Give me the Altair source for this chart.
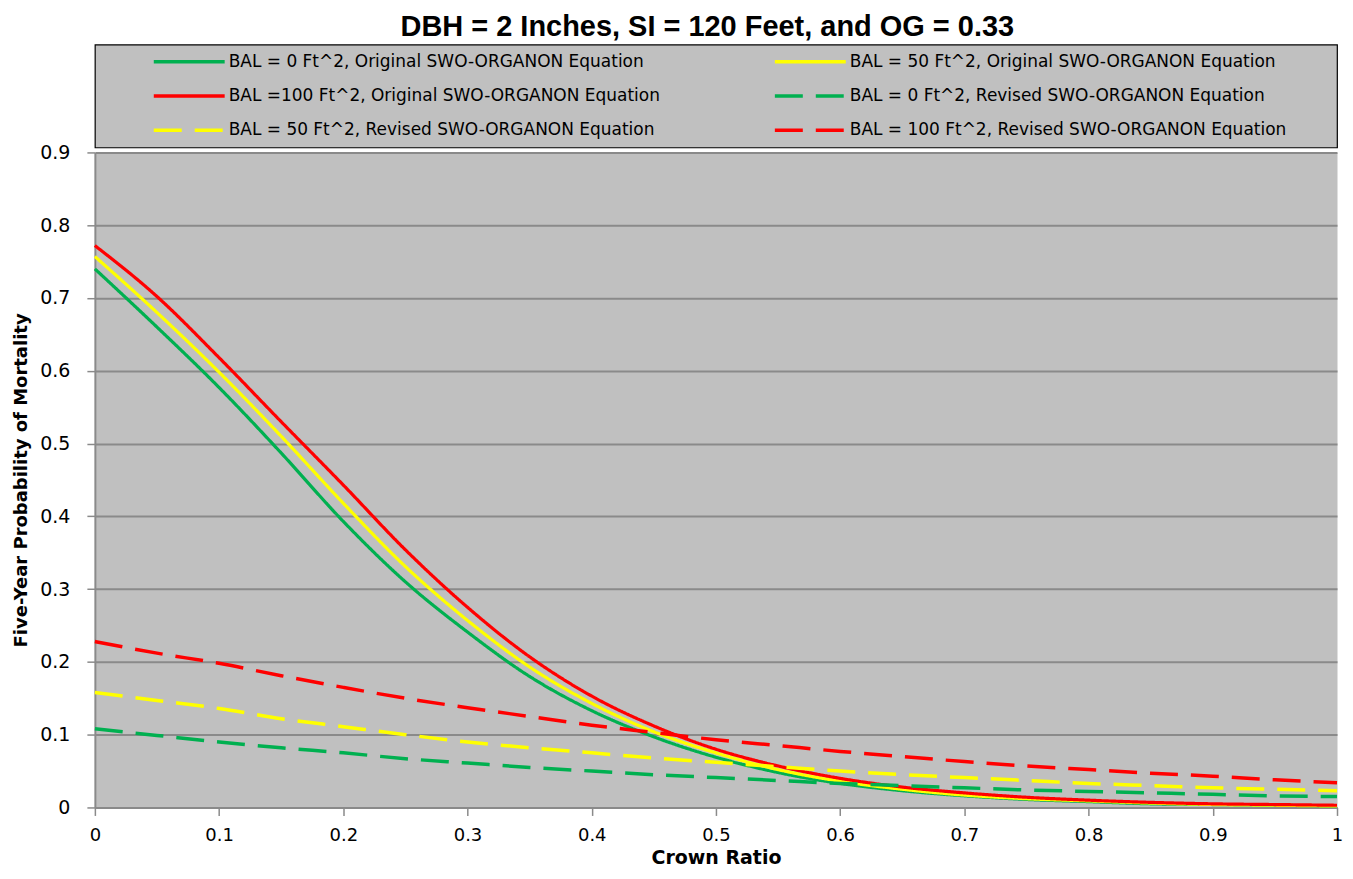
import altair as alt
import pandas as pd

crown_ratio = [0.00, 0.05, 0.10, 0.15, 0.20, 0.25, 0.30, 0.35, 0.40, 0.45, 0.50,
               0.55, 0.60, 0.65, 0.70, 0.75, 0.80, 0.85, 0.90, 0.95, 1.00]

orig_bal0 = [0.740, 0.660, 0.577, 0.487, 0.393, 0.310, 0.241, 0.180, 0.133, 0.097, 0.069,
             0.048, 0.033, 0.023, 0.016, 0.011, 0.008, 0.005, 0.004, 0.003, 0.002]
orig_bal50 = [0.757, 0.680, 0.598, 0.510, 0.418, 0.331, 0.257, 0.193, 0.143, 0.104, 0.075,
              0.052, 0.036, 0.025, 0.017, 0.012, 0.009, 0.006, 0.004, 0.003, 0.002]
orig_bal100 = [0.772, 0.702, 0.618, 0.530, 0.443, 0.354, 0.275, 0.207, 0.153, 0.112, 0.080,
               0.057, 0.040, 0.028, 0.020, 0.014, 0.010, 0.007, 0.005, 0.004, 0.003]
rev_bal0 = [0.108, 0.099, 0.090, 0.082, 0.075, 0.067, 0.061, 0.055, 0.050, 0.045, 0.041,
            0.037, 0.033, 0.030, 0.027, 0.024, 0.022, 0.020, 0.018, 0.016, 0.015]
rev_bal50 = [0.158, 0.147, 0.136, 0.122, 0.111, 0.100, 0.090, 0.082, 0.075, 0.068, 0.062,
             0.056, 0.050, 0.045, 0.041, 0.037, 0.033, 0.030, 0.027, 0.025, 0.023]
rev_bal100 = [0.228, 0.212, 0.198, 0.181, 0.165, 0.150, 0.137, 0.125, 0.113, 0.103, 0.093,
              0.085, 0.077, 0.070, 0.063, 0.057, 0.052, 0.047, 0.043, 0.038, 0.034]

names = [
    "BAL = 0 Ft^2, Original SWO-ORGANON Equation",
    "BAL = 50 Ft^2, Original SWO-ORGANON Equation",
    "BAL =100 Ft^2, Original SWO-ORGANON Equation",
    "BAL = 0 Ft^2, Revised SWO-ORGANON Equation",
    "BAL = 50 Ft^2, Revised SWO-ORGANON Equation",
    "BAL = 100 Ft^2, Revised SWO-ORGANON Equation",
]
kinds = ["Original", "Original", "Original", "Revised", "Revised", "Revised"]
colors = ["#00B050", "#FFFF00", "#FF0000", "#00B050", "#FFFF00", "#FF0000"]
dashes = [[1, 0], [1, 0], [1, 0], [28, 13], [28, 13], [28, 13]]
legend_col = [0, 1, 0, 1, 0, 1]
legend_row = [0, 0, 1, 1, 2, 2]

x_ticks = [0, 0.1, 0.2, 0.3, 0.4, 0.5, 0.6, 0.7, 0.8, 0.9, 1.0]
y_ticks = [0, 0.1, 0.2, 0.3, 0.4, 0.5, 0.6, 0.7, 0.8, 0.9]

series_vals = [orig_bal0, orig_bal50, orig_bal100, rev_bal0, rev_bal50, rev_bal100]
rows = []
for name, kind, vals in zip(names, kinds, series_vals):
    for xv, yv in zip(crown_ratio, vals):
        rows.append({"series": name, "kind": kind, "cr": xv, "p": yv})
df = pd.DataFrame(rows)

leg_df = pd.DataFrame({"series": names, "col": legend_col, "row": legend_row})

color_scale = alt.Scale(domain=names, range=colors)
dash_scale = alt.Scale(domain=names, range=dashes)

FONT = "DejaVu Sans"
GRID = "#8a8a8a"

x_enc = alt.X("cr:Q", scale=alt.Scale(domain=[0, 1], nice=False),
              axis=alt.Axis(values=x_ticks, format=".1~f", title="Crown Ratio", grid=False,
                            domainColor=GRID, domainWidth=2, tickColor=GRID, tickWidth=1.5,
                            tickSize=8, labelPadding=11, labelFontSize=18, labelFont=FONT,
                            labelColor="black", titleFont=FONT, titleFontSize=19,
                            titleFontWeight="bold", titleColor="black", titlePadding=19,
                            titleBaseline="alphabetic", labelFlush=False))
y_enc = alt.Y("p:Q", scale=alt.Scale(domain=[0, 0.9], nice=False),
              axis=alt.Axis(values=y_ticks, format=".1~f",
                            title="Five-Year Probability of Mortality", grid=True,
                            gridColor=GRID, gridWidth=2, domainColor=GRID, domainWidth=2,
                            tickColor=GRID, tickWidth=1.5, tickSize=8, labelPadding=17,
                            labelFontSize=19, labelFont=FONT, labelColor="black",
                            titleFont=FONT, titleFontSize=18, titleFontWeight="bold",
                            titleColor="black", titlePadding=9))

solid = alt.Chart(df).transform_filter(alt.datum.kind == "Original").mark_line(
    strokeWidth=3.2, interpolate="monotone", strokeCap="butt"
).encode(
    x=x_enc, y=y_enc,
    color=alt.Color("series:N", scale=color_scale, legend=None),
    strokeDash=alt.StrokeDash("series:N", scale=dash_scale, legend=None),
)
dashed = alt.Chart(df).transform_filter(alt.datum.kind == "Revised").mark_line(
    strokeWidth=3.5, interpolate="monotone", strokeCap="butt"
).encode(
    x=x_enc, y=y_enc,
    color=alt.Color("series:N", scale=color_scale, legend=None),
    strokeDash=alt.StrokeDash("series:N", scale=dash_scale, legend=None),
)
main = alt.layer(solid, dashed).properties(
    width=1244, height=656,
    view=alt.ViewBackground(fill="#C0C0C0", stroke="transparent"),
)

lx = alt.X("col:Q", scale=alt.Scale(domain=[0, 2], nice=False), axis=None)
ly = alt.Y("row:O", scale=alt.Scale(type="point", padding=0.5), axis=None)
leg_rules = alt.Chart(leg_df).mark_rule(xOffset=59, x2Offset=130, strokeWidth=3.5,
                                        strokeCap="butt").encode(
    x=lx, x2="col:Q", y=ly,
    color=alt.Color("series:N", scale=color_scale, legend=None),
    strokeDash=alt.StrokeDash("series:N", scale=dash_scale, legend=None),
)
leg_text = alt.Chart(leg_df).mark_text(align="left", baseline="middle", dx=134,
                                       font=FONT, fontSize=17, color="black").encode(
    x=lx, y=ly, text="series:N"
)
legend = alt.layer(leg_rules, leg_text).properties(
    width=1244, height=103,
    view=alt.ViewBackground(fill="#C0C0C0", stroke="black", strokeWidth=1.2),
)

chart = alt.vconcat(
    legend, main, spacing=5, bounds="flush",
    padding={"left": 4, "top": 4, "right": 0, "bottom": 0},
).properties(
    title=alt.TitleParams("DBH = 2 Inches, SI = 120 Feet, and OG = 0.33",
                          font="Liberation Sans", fontSize=29, fontWeight="bold",
                          anchor="middle", color="black", offset=2, dx=29)
).configure(background="white")

chart.save("out.html", embed_options={"renderer": "svg", "actions": False})
